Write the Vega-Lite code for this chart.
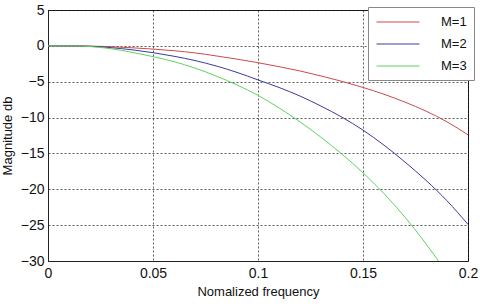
{
  "$schema": "https://vega.github.io/schema/vega-lite/v6.json",
  "width": 420,
  "height": 251,
  "autosize": {"type": "none"},
  "padding": {"left": 48, "top": 10, "right": 12, "bottom": 47},
  "background": "white",
  "config": {
    "view": {"stroke": "#222222", "strokeWidth": 1},
    "font": "Liberation Sans",
    "axis": {
      "domainColor": "#222222",
      "gridColor": "#000000",
      "gridDash": [2, 2],
      "gridOpacity": 0.8,
      "gridWidth": 0.8,
      "ticks": false,
      "labelFont": "Liberation Sans",
      "labelFontSize": 14,
      "labelColor": "#111111",
      "titleFont": "Liberation Sans",
      "titleFontSize": 13,
      "titleFontWeight": "normal",
      "titleColor": "#111111"
    }
  },
  "data": {
    "values": [
      {"f": 0, "db": 0, "M": "M=1"},
      {"f": 0.01, "db": 0, "M": "M=1"},
      {"f": 0.02, "db": -0.03, "M": "M=1"},
      {"f": 0.03, "db": -0.12, "M": "M=1"},
      {"f": 0.04, "db": -0.27, "M": "M=1"},
      {"f": 0.05, "db": -0.45, "M": "M=1"},
      {"f": 0.06, "db": -0.68, "M": "M=1"},
      {"f": 0.07, "db": -0.98, "M": "M=1"},
      {"f": 0.08, "db": -1.4, "M": "M=1"},
      {"f": 0.09, "db": -1.85, "M": "M=1"},
      {"f": 0.1, "db": -2.35, "M": "M=1"},
      {"f": 0.11, "db": -2.9, "M": "M=1"},
      {"f": 0.12, "db": -3.5, "M": "M=1"},
      {"f": 0.13, "db": -4.2, "M": "M=1"},
      {"f": 0.14, "db": -4.95, "M": "M=1"},
      {"f": 0.15, "db": -5.8, "M": "M=1"},
      {"f": 0.16, "db": -6.75, "M": "M=1"},
      {"f": 0.17, "db": -7.85, "M": "M=1"},
      {"f": 0.18, "db": -9.1, "M": "M=1"},
      {"f": 0.19, "db": -10.6, "M": "M=1"},
      {"f": 0.2, "db": -12.4, "M": "M=1"},
      {"f": 0, "db": 0, "M": "M=2"},
      {"f": 0.01, "db": 0, "M": "M=2"},
      {"f": 0.02, "db": -0.06, "M": "M=2"},
      {"f": 0.03, "db": -0.25, "M": "M=2"},
      {"f": 0.04, "db": -0.55, "M": "M=2"},
      {"f": 0.05, "db": -0.95, "M": "M=2"},
      {"f": 0.06, "db": -1.45, "M": "M=2"},
      {"f": 0.07, "db": -2.05, "M": "M=2"},
      {"f": 0.08, "db": -2.8, "M": "M=2"},
      {"f": 0.09, "db": -3.7, "M": "M=2"},
      {"f": 0.1, "db": -4.75, "M": "M=2"},
      {"f": 0.11, "db": -5.8, "M": "M=2"},
      {"f": 0.12, "db": -7.0, "M": "M=2"},
      {"f": 0.13, "db": -8.4, "M": "M=2"},
      {"f": 0.14, "db": -9.95, "M": "M=2"},
      {"f": 0.15, "db": -11.75, "M": "M=2"},
      {"f": 0.16, "db": -13.85, "M": "M=2"},
      {"f": 0.17, "db": -16.2, "M": "M=2"},
      {"f": 0.18, "db": -18.75, "M": "M=2"},
      {"f": 0.19, "db": -21.6, "M": "M=2"},
      {"f": 0.2, "db": -24.9, "M": "M=2"},
      {"f": 0, "db": 0, "M": "M=3"},
      {"f": 0.01, "db": 0, "M": "M=3"},
      {"f": 0.02, "db": -0.1, "M": "M=3"},
      {"f": 0.03, "db": -0.4, "M": "M=3"},
      {"f": 0.04, "db": -0.9, "M": "M=3"},
      {"f": 0.05, "db": -1.5, "M": "M=3"},
      {"f": 0.06, "db": -2.2, "M": "M=3"},
      {"f": 0.07, "db": -3.1, "M": "M=3"},
      {"f": 0.08, "db": -4.2, "M": "M=3"},
      {"f": 0.09, "db": -5.45, "M": "M=3"},
      {"f": 0.1, "db": -6.9, "M": "M=3"},
      {"f": 0.11, "db": -8.65, "M": "M=3"},
      {"f": 0.12, "db": -10.6, "M": "M=3"},
      {"f": 0.13, "db": -12.75, "M": "M=3"},
      {"f": 0.14, "db": -15.1, "M": "M=3"},
      {"f": 0.15, "db": -17.7, "M": "M=3"},
      {"f": 0.16, "db": -20.6, "M": "M=3"},
      {"f": 0.17, "db": -23.9, "M": "M=3"},
      {"f": 0.18, "db": -27.6, "M": "M=3"},
      {"f": 0.19, "db": -31.7, "M": "M=3"}
    ]
  },
  "mark": {"type": "line", "strokeWidth": 1, "clip": true, "interpolate": "monotone"},
  "encoding": {
    "x": {
      "field": "f",
      "type": "quantitative",
      "scale": {"domain": [0, 0.2], "nice": false, "zero": false},
      "axis": {"values": [0, 0.05, 0.1, 0.15, 0.2], "format": "~g", "title": "Nomalized frequency", "labelPadding": 5, "titlePadding": 5, "labelFlush": false}
    },
    "y": {
      "field": "db",
      "type": "quantitative",
      "scale": {"domain": [-30, 5], "nice": false, "zero": false},
      "axis": {"values": [5, 0, -5, -10, -15, -20, -25, -30], "format": "~g", "title": "Magnitude db", "labelPadding": 4, "titlePadding": 6, "labelFlush": false}
    },
    "color": {
      "field": "M",
      "type": "nominal",
      "scale": {"domain": ["M=1", "M=2", "M=3"], "range": ["#cc4b4b", "#3b3b9c", "#5fd35f"]},
      "legend": {
        "title": null,
        "orient": "none",
        "legendX": 320,
        "legendY": -3,
        "fillColor": "white",
        "strokeColor": "#888888",
        "padding": 7,
        "symbolType": "M-3,0H3",
        "symbolSize": 205,
        "symbolOffset": 15,
        "symbolStrokeWidth": 1,
        "labelFontSize": 13,
        "labelFont": "Liberation Sans",
        "labelColor": "#111111",
        "rowPadding": 7,
        "labelOffset": 35
      }
    }
  }
}
